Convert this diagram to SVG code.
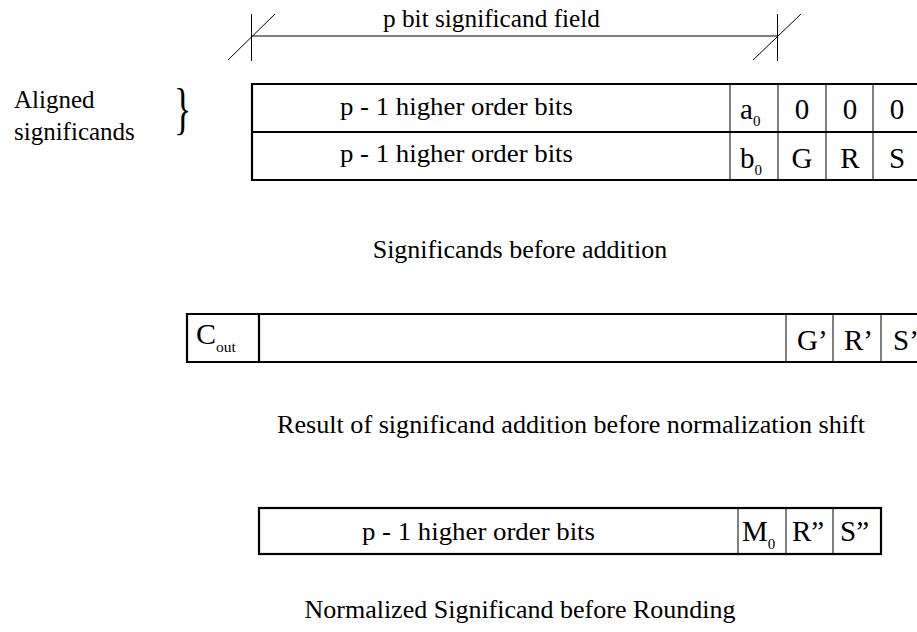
<svg xmlns="http://www.w3.org/2000/svg" width="917" height="632" viewBox="0 0 917 632">
<style>
text{font-family:"Liberation Serif","Times New Roman",serif;fill:#000}
.t{font-size:26px}
.m{font-size:26px;text-anchor:middle}
.c{font-size:29px;text-anchor:middle}
.l{font-size:29px}
.s{font-size:15px}
.thick{stroke:#000;stroke-width:2.2;fill:none}
.thin{stroke:#000;stroke-width:1;fill:none}
</style>
<rect width="917" height="632" fill="#fff"/>
<g id="dimension">
<line class="thin" x1="251.5" y1="14" x2="251.5" y2="61"/>
<line class="thin" x1="228" y1="60" x2="275" y2="14"/>
<line class="thin" x1="777.5" y1="14" x2="777.5" y2="61"/>
<line class="thin" x1="753" y1="60" x2="801" y2="14"/>
<line class="thin" x1="251.5" y1="36" x2="777.5" y2="36"/>
<text class="t" x="383" y="27" font-size="25" textLength="217" lengthAdjust="spacingAndGlyphs">p bit significand field</text>
</g>
<g id="aligned-label">
<text x="14" y="108" font-size="25">Aligned</text>
<text x="14" y="140" font-size="25">significands</text>
<text x="0" y="0" font-size="58" transform="translate(174,128) scale(0.62,1)">}</text>
</g>
<g id="aligned-table">
<path class="thick" d="M917,84 H252 V180 H917 M252,132 H917"/>
<path class="thin" d="M730,84 V180 M778,84 V180 M826,84 V180 M873,84 V180"/>
<text class="t" x="340" y="115" textLength="233" lengthAdjust="spacingAndGlyphs">p - 1 higher order bits</text>
<text class="t" x="340" y="162" textLength="233" lengthAdjust="spacingAndGlyphs">p - 1 higher order bits</text>
<text class="l" x="740" y="119">a<tspan class="s" dy="7">0</tspan></text>
<text class="c" x="802" y="119">0</text>
<text class="c" x="850" y="119">0</text>
<text class="c" x="897" y="119">0</text>
<text class="l" x="740" y="168">b<tspan class="s" dy="7">0</tspan></text>
<text class="c" x="802" y="168">G</text>
<text class="c" x="850" y="168">R</text>
<text class="c" x="897" y="168">S</text>
</g>
<text class="m" x="520" y="258">Significands before addition</text>
<g id="sum-table">
<path class="thick" d="M917,314 H187 V362 H917 M259,314 V362"/>
<path class="thin" d="M786,314 V362 M833,314 V362 M881,314 V362"/>
<text x="196" y="344" font-size="30">C<tspan font-size="15.5" dy="8">out</tspan></text>
<text class="l" x="797" y="350" font-size="28">G’</text>
<text class="l" x="844" y="350" font-size="28">R’</text>
<text class="l" x="893" y="350" font-size="28">S’</text>
</g>
<text class="t" x="277" y="433" textLength="588" lengthAdjust="spacingAndGlyphs">Result of significand addition before normalization shift</text>
<g id="normalized-table">
<rect class="thick" x="259" y="508" width="622" height="46"/>
<path class="thin" d="M738,508 V554 M786,508 V554 M833,508 V554"/>
<text class="t" x="362" y="540" textLength="233" lengthAdjust="spacingAndGlyphs">p - 1 higher order bits</text>
<text class="l" x="742" y="541">M<tspan class="s" dy="8">0</tspan></text>
<text class="l" x="792" y="541">R”</text>
<text class="l" x="840" y="541">S”</text>
</g>
<text class="m" x="520" y="618">Normalized Significand before Rounding</text>
</svg>
